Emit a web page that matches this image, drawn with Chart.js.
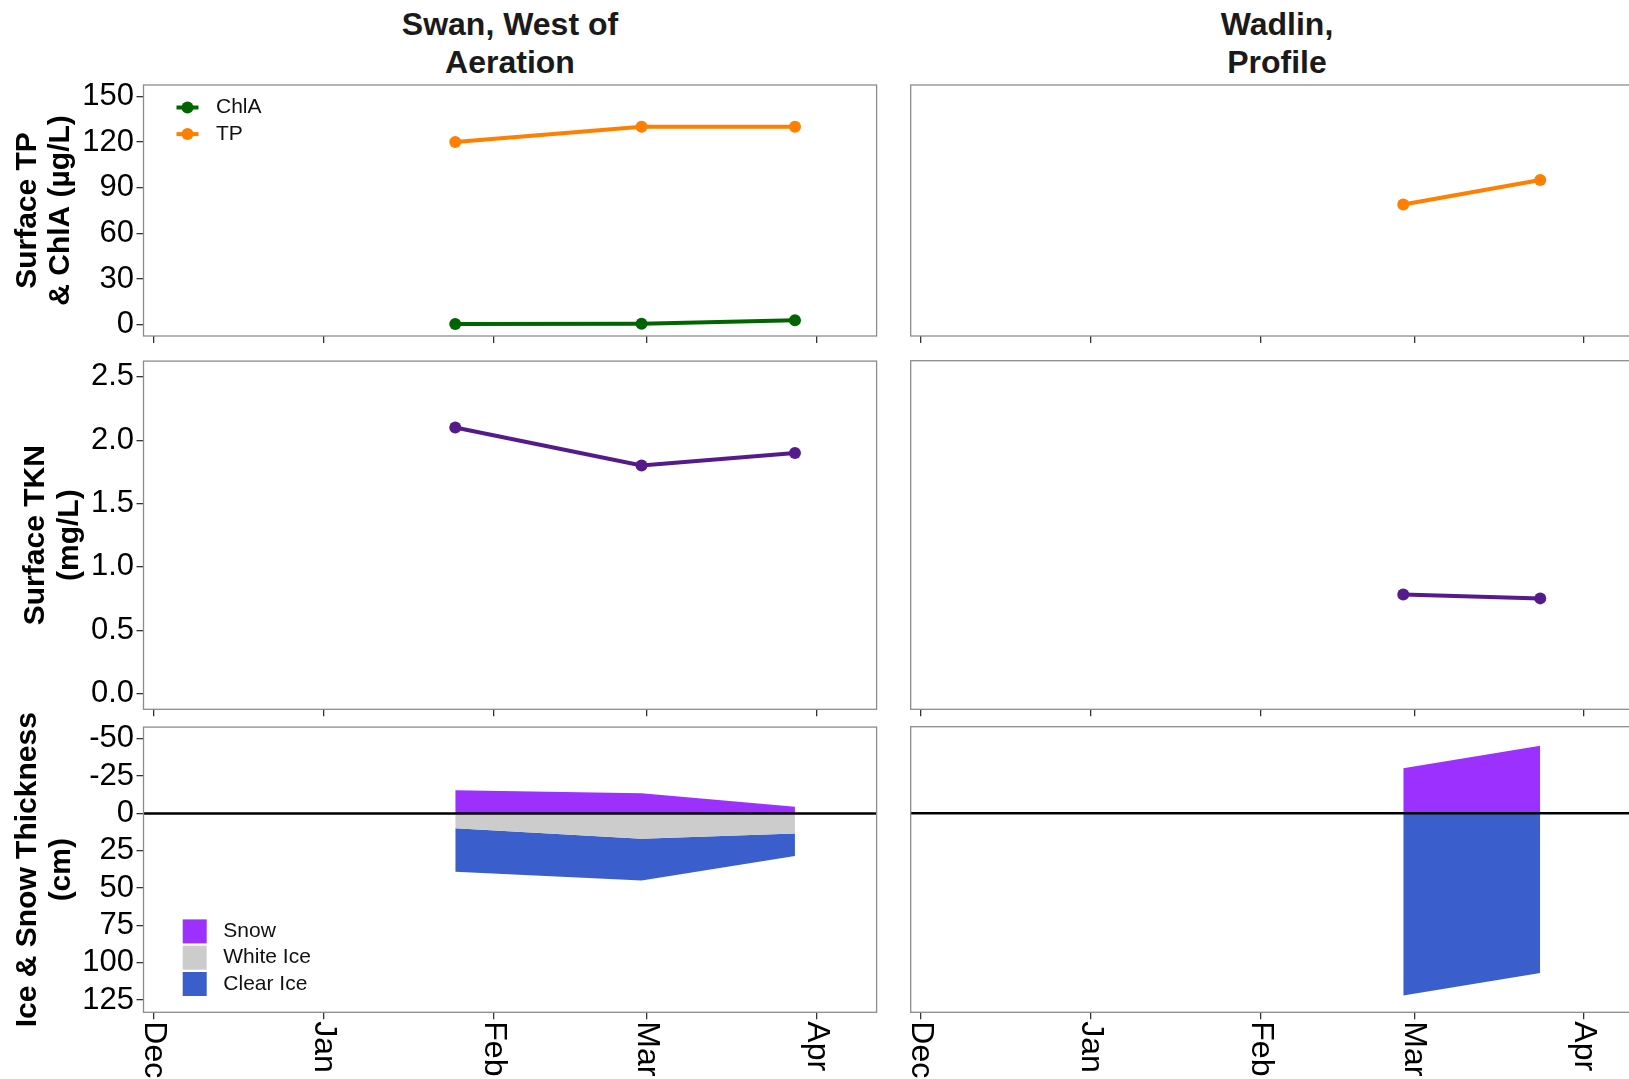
<!DOCTYPE html>
<html>
<head>
<meta charset="utf-8">
<script src="https://cdn.jsdelivr.net/npm/chart.js@4.4.1/dist/chart.umd.min.js"></script>
<style>
html, body { margin: 0; padding: 0; background: #fff; overflow: hidden; }
#page { position: relative; width: 1629px; height: 1079px; overflow: hidden; background: #fff; }
#page canvas { position: absolute; display: block; }
.facet {
    position: absolute; top: 6px; width: 500px; margin-left: -250px;
    text-align: center; color: #1a1a1a;
    font: bold 32px/37.5px "Liberation Sans", Arial, Helvetica, sans-serif;
}
</style>
</head>
<body>
<div id="page">
    <div class="facet" style="left:510px">Swan, West of<br>Aeration</div>
    <div class="facet" style="left:1277px">Wadlin,<br>Profile</div>
</div>
<script>

// ---- data ----
const baseDate = "2022-12-01";
const monthStarts = ["2022-12-01", "2023-01-01", "2023-02-01", "2023-03-01", "2023-04-01"];
const monthLabels = ["Dec", "Jan", "Feb", "Mar", "Apr"];

const swanDates = ["2023-01-25", "2023-02-28", "2023-03-28"];
const swanTP = [120, 130, 130];
const swanChlA = [0.4, 0.6, 2.8];
const swanTKN = [2.1, 1.8, 1.9];
const swanSnow = [15.5, 13.5, 4.5];
const swanWhiteIce = [10, 17, 13.5];
const swanClearIce = [29, 28, 15];

const wadlinDates = ["2023-02-27", "2023-03-24"];
const wadlinTP = [79, 95];
const wadlinTKN = [0.78, 0.75];
const wadlinSnow = [30, 45];
const wadlinWhiteIce = [0, 0];
const wadlinClearIce = [122, 107];

const tpTicks = [0, 30, 60, 90, 120, 150];
const tknTicks = [0, 0.5, 1, 1.5, 2, 2.5];
const iceTicks = [-50, -25, 0, 25, 50, 75, 100, 125];

// ---- styling ----
const FONT = '"Liberation Sans", Arial, Helvetica, sans-serif';
const TP_COL = "#FF7F00";
const CHLA_COL = "#006400";
const TKN_COL = "#551A8B";
const SNOW_COL = "#9B30FF";
const WHITE_COL = "#CCCCCC";
const CLEAR_COL = "#3A5FCD";

const xMin = -1.9;
const xMax = 131.9;

// canvas placement per facet column / row; the x-axis band is made deep
// enough that tick-label overflow never pushes the plot area up
const COLS = {
    left:  { x: 0,   width: 884, padL: 0,    padR: 7.4 },
    right: { x: 900, width: 750, padL: 10.7, padR: 6.2 }
};
const ROWS = [
    { y: 60,  height: 308, padT: 25,   xAxisH: 32 },
    { y: 340, height: 402, padT: 20.7, xAxisH: 32.7 },
    { y: 706, height: 373, padT: 20.7, xAxisH: 66.7 }
];

Chart.defaults.font.family = FONT;
Chart.defaults.color = "#000";

function dayOf(d){
    return Math.round((Date.parse(d) - Date.parse(baseDate)) / 86400000);
}

const monthDays = monthStarts.map(dayOf);

// ---- plugins ----
const panelFrame = {
    id: "panelFrame",
    afterDraw(chart){
        const {ctx, chartArea: a} = chart;
        ctx.save();
        ctx.strokeStyle = "#8c8c8c";
        ctx.lineWidth = 1.3;
        ctx.strokeRect(a.left, a.top, a.right - a.left, a.bottom - a.top);
        ctx.restore();
    }
};

const yTitle = {
    id: "yTitle",
    afterDraw(chart, args, o){
        const {ctx, chartArea: a} = chart;
        ctx.save();
        ctx.font = "bold 30px " + FONT;
        ctx.fillStyle = "#000";
        ctx.textAlign = "center";
        ctx.textBaseline = "middle";
        ctx.translate(o.x, (a.top + a.bottom) / 2);
        ctx.rotate(-Math.PI / 2);
        o.lines.forEach((t, i) => ctx.fillText(t, 0, i * 33.5));
        ctx.restore();
    }
};

const lineKey = {
    id: "lineKey",
    afterDraw(chart, args, o){
        const {ctx, chartArea: a} = chart;
        ctx.save();
        ctx.font = "21px " + FONT;
        ctx.textBaseline = "middle";
        o.items.forEach((it, i) => {
            const x = a.left + 44;
            const y = a.top + 22.5 + i * 26.6;
            ctx.strokeStyle = it.color;
            ctx.lineWidth = 4;
            ctx.beginPath();
            ctx.moveTo(x - 11, y);
            ctx.lineTo(x + 11, y);
            ctx.stroke();
            ctx.fillStyle = it.color;
            ctx.beginPath();
            ctx.arc(x, y, 6, 0, Math.PI * 2);
            ctx.fill();
            ctx.fillStyle = "#111";
            ctx.fillText(it.label, a.left + 72.5, y);
        });
        ctx.restore();
    }
};

const fillKey = {
    id: "fillKey",
    afterDraw(chart, args, o){
        const {ctx, chartArea: a} = chart;
        ctx.save();
        ctx.font = "21px " + FONT;
        ctx.textBaseline = "middle";
        o.items.forEach((it, i) => {
            const y = a.top + 192.3 + i * 26.3;
            ctx.fillStyle = it.color;
            ctx.fillRect(a.left + 39.2, y, 24, 24);
            ctx.fillStyle = "#111";
            ctx.fillText(it.label, a.left + 79.8, y + 12);
        });
        ctx.restore();
    }
};

// month names under the bottom row, turned to read downwards
const monthAxis = {
    id: "monthAxis",
    afterDraw(chart){
        const {ctx, chartArea: a, scales} = chart;
        ctx.save();
        ctx.font = "32px " + FONT;
        ctx.fillStyle = "#000";
        ctx.textAlign = "left";
        ctx.textBaseline = "middle";
        monthDays.forEach((d, i) => {
            ctx.save();
            ctx.translate(scales.x.getPixelForValue(d), a.bottom + 9);
            ctx.rotate(Math.PI / 2);
            ctx.fillText(monthLabels[i], 0, 0);
            ctx.restore();
        });
        ctx.restore();
    }
};

// ---- scales ----
function xAxis(height){
    return {
        type: "linear",
        min: xMin,
        max: xMax,
        afterBuildTicks: s => { s.ticks = monthDays.map(v => ({value: v})); },
        afterFit: s => { s.height = height; },
        border: {display: false},
        grid: {drawOnChartArea: false, tickLength: 7, color: "#333", lineWidth: 1.3},
        ticks: {display: false}
    };
}

function yAxisLeft(ticks, min, max, fmt, reverse){
    return {
        min, max,
        reverse: !!reverse,
        afterBuildTicks: s => { s.ticks = ticks.map(v => ({value: v})); },
        afterFit: s => { s.width = 143.5; },
        border: {display: false},
        grid: {drawOnChartArea: false, tickLength: 7, color: "#333", lineWidth: 1.3},
        ticks: {
            autoSkip: false,
            padding: 2.5,
            color: "#000",
            font: {size: 31, family: FONT},
            callback: fmt
        }
    };
}

function yAxisRight(min, max, reverse){
    return {display: false, min, max, reverse: !!reverse};
}

// ---- datasets ----
function seriesLine(label, dates, values, color){
    return {
        label,
        data: dates.map((d, i) => ({x: dayOf(d), y: values[i]})),
        borderColor: color,
        backgroundColor: color,
        borderWidth: 4,
        pointRadius: 6,
        pointBorderWidth: 0,
        tension: 0,
        fill: false
    };
}

function iceLayers(dates, snow, white, clear){
    const xs = dates.map(dayOf);
    const layer = (label, ys, color, fill) => ({
        label,
        data: xs.map((x, i) => ({x, y: ys[i]})),
        borderWidth: 0,
        borderColor: color,
        backgroundColor: color,
        pointRadius: 0,
        tension: 0,
        fill
    });
    return [
        {
            label: "surface",
            data: [{x: xMin, y: 0}, {x: xMax, y: 0}],
            borderColor: "#000",
            borderWidth: 2.5,
            pointRadius: 0,
            fill: false
        },
        layer("Snow", snow.map(v => -v), SNOW_COL, "origin"),
        layer("White Ice", white, WHITE_COL, "origin"),
        layer("Clear Ice", clear.map((v, i) => v + white[i]), CLEAR_COL, "-1")
    ];
}

// ---- panels ----
const page = document.getElementById("page");

function panel(col, row, datasets, yScale, extraPlugins, pluginOpts){
    const c = COLS[col];
    const r = ROWS[row];
    const canvas = document.createElement("canvas");
    canvas.width = c.width;
    canvas.height = r.height;
    canvas.style.left = c.x + "px";
    canvas.style.top = r.y + "px";
    page.appendChild(canvas);

    return new Chart(canvas.getContext("2d"), {
        type: "line",
        data: {datasets},
        options: {
            responsive: false,
            animation: false,
            devicePixelRatio: 1,
            events: [],
            layout: {padding: {left: c.padL, right: c.padR, top: r.padT, bottom: 0}},
            scales: {x: xAxis(r.xAxisH), y: yScale},
            plugins: Object.assign({legend: {display: false}, tooltip: {enabled: false}}, pluginOpts || {})
        },
        plugins: [panelFrame].concat(extraPlugins || [])
    });
}

const asInt = v => String(v);
const oneDecimal = v => v.toFixed(1);

// row 1: surface TP & ChlA
panel("left", 0,
    [seriesLine("ChlA", swanDates, swanChlA, CHLA_COL), seriesLine("TP", swanDates, swanTP, TP_COL)],
    yAxisLeft(tpTicks, -7.5, 157.5, asInt),
    [yTitle, lineKey],
    {
        yTitle: {x: 27.5, lines: ["Surface TP", "& ChlA (µg/L)"]},
        lineKey: {items: [{label: "ChlA", color: CHLA_COL}, {label: "TP", color: TP_COL}]}
    });

panel("right", 0,
    [seriesLine("TP", wadlinDates, wadlinTP, TP_COL)],
    yAxisRight(-7.5, 157.5));

// row 2: surface TKN
panel("left", 1,
    [seriesLine("TKN", swanDates, swanTKN, TKN_COL)],
    yAxisLeft(tknTicks, -0.125, 2.625, oneDecimal),
    [yTitle],
    {yTitle: {x: 36, lines: ["Surface TKN", "(mg/L)"]}});

panel("right", 1,
    [seriesLine("TKN", wadlinDates, wadlinTKN, TKN_COL)],
    yAxisRight(-0.125, 2.625));

// row 3: ice and snow layers
panel("left", 2,
    iceLayers(swanDates, swanSnow, swanWhiteIce, swanClearIce),
    yAxisLeft(iceTicks, -57.8, 133.2, asInt, true),
    [yTitle, fillKey, monthAxis],
    {
        yTitle: {x: 28, lines: ["Ice & Snow Thickness", "(cm)"]},
        fillKey: {items: [
            {label: "Snow", color: SNOW_COL},
            {label: "White Ice", color: WHITE_COL},
            {label: "Clear Ice", color: CLEAR_COL}
        ]}
    });

panel("right", 2,
    iceLayers(wadlinDates, wadlinSnow, wadlinWhiteIce, wadlinClearIce),
    yAxisRight(-57.8, 133.2, true),
    [monthAxis]);

</script>
</body>
</html>
